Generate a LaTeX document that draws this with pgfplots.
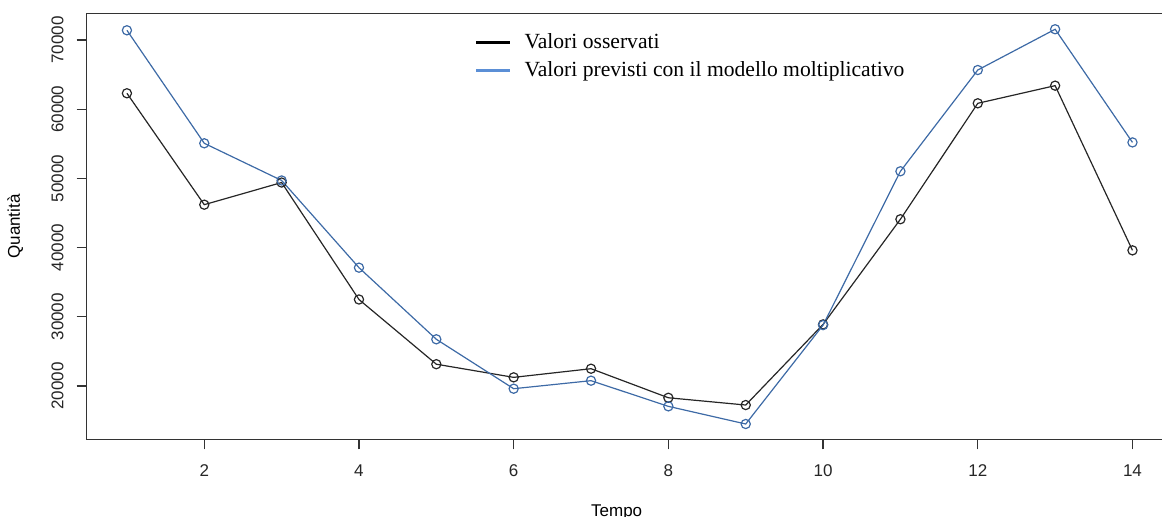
\documentclass[border=0pt]{standalone}
\usepackage{pgfplots}
\pgfplotsset{compat=1.18}
\usepackage{fontspec}
\setmainfont{Liberation Sans}
\newfontfamily\seriffont{Liberation Serif}
\definecolor{linblue}{HTML}{3D6AA6}
\definecolor{legblue}{HTML}{5B8FD6}
\definecolor{axgray}{HTML}{333333}
\begin{document}
\begin{tikzpicture}
\begin{axis}[
  scale only axis,
  width=543pt, height=212.8pt,
  xmin=0.48, xmax=14.52,
  ymin=12300, ymax=73800,
  xtick={2,4,6,8,10,12,14},
  ytick={20000,30000,40000,50000,60000,70000},
  scaled y ticks=false,
  /pgf/number format/.cd, 1000 sep={}, assume math mode=true,
  /pgfplots/.cd,
  tick align=outside,
  major tick length=5pt,
  xtick pos=bottom, ytick pos=left,
  axis line style={axgray, line width=0.6pt},
  tick style={axgray, line width=0.6pt},
  tick label style={font=\fontsize{8.5}{10}\selectfont, text=black!85},
  yticklabel style={rotate=90, anchor=south, yshift=3pt},
  xticklabel style={yshift=-4pt},
  xlabel={Tempo}, ylabel={Quantità},
  label style={font=\fontsize{8.5}{10}\selectfont},
  xlabel style={at={(rel axis cs:0.488,0)}, anchor=center, yshift=-36.5pt},
  ylabel style={at={(rel axis cs:0,0.5)}, anchor=center, yshift=35.8pt},
  legend style={draw=none, fill=none, at={(rel axis cs:0.355,0.968)}, anchor=north west,
    font=\seriffont\fontsize{10.8}{12}\selectfont, row sep=1pt, inner sep=1pt},
  legend cell align=left,
  legend image code/.code={\draw[#1, line width=1.6pt] (0pt,0pt) -- (17pt,0pt); \path (22pt,0pt);},
]
\addlegendimage{black}
\addlegendentry{Valori osservati}
\addlegendimage{legblue}
\addlegendentry{Valori previsti con il modello moltiplicativo}

\addplot[forget plot, black!85, line width=0.6pt, mark=o, mark size=2.3pt, mark options={line width=0.6pt}] coordinates {
(1,62300) (2,46200) (3,49400) (4,32500) (5,23150) (6,21250) (7,22500)
(8,18300) (9,17250) (10,28900) (11,44100) (12,60850) (13,63400) (14,39600)};
\addplot[forget plot, linblue, line width=0.6pt, mark=o, mark size=2.3pt, mark options={line width=0.6pt}] coordinates {
(1,71400) (2,55070) (3,49700) (4,37100) (5,26750) (6,19610) (7,20770)
(8,17060) (9,14510) (10,28800) (11,51030) (12,65660) (13,71550) (14,55200)};
\end{axis}
\pgfresetboundingbox
\path[use as bounding box] (-43.35pt,-38.85pt) rectangle (537.65pt,219.65pt);
\end{tikzpicture}
\end{document}
